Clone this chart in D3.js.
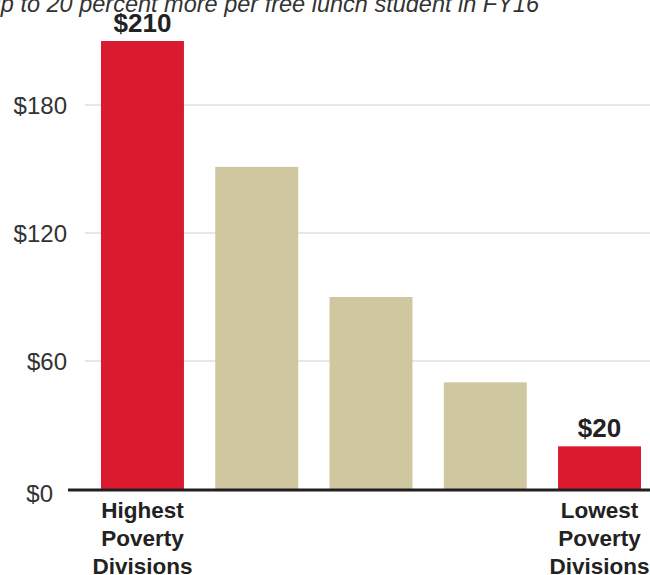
<!DOCTYPE html>
<html><head><meta charset="utf-8">
<script src="https://cdn.jsdelivr.net/npm/d3@7"></script>
<style>
html,body{margin:0;padding:0;background:#fff;}
svg{display:block;font-family:"Liberation Sans",Arial,Helvetica,sans-serif;}
</style></head>
<body>
<script>
const titleText = "up to 20 percent more per free lunch student in FY16";
const categories = ["q1","q2","q3","q4","q5"];
const categoryLabels = [["Highest","Poverty","Divisions"], [], [], [], ["Lowest","Poverty","Divisions"]];
const values = [210, 151, 90, 50, 20];
const highlighted = [true, false, false, false, true];
const valueLabels = ["$210", "", "", "", "$20"];
const yTicks = [0, 60, 120, 180];

const W = 650, H = 575;
const svg = d3.select("body").append("svg").attr("width", W).attr("height", H);

const y = d3.scaleLinear().domain([0, 180]).range([489, 105]);
const x = d3.scaleBand().domain(categories).range([101, 641]).paddingInner(0.274).paddingOuter(0);

// title (clipped at top)
svg.append("text").attr("x", 539).attr("y", 12).attr("text-anchor", "end")
  .attr("font-size", 23.5).attr("font-style", "italic").attr("fill", "#333")
  .text(titleText);

// gridlines
svg.append("g").selectAll("line").data(yTicks.filter(d => d > 0)).join("line")
  .attr("x1", 85).attr("x2", 650).attr("y1", d => y(d)).attr("y2", d => y(d))
  .attr("stroke", "#cfcfcf").attr("stroke-width", 1);

// y axis labels
const yAxis = d3.axisLeft(y).tickValues(yTicks).tickSize(0).tickPadding(0).tickFormat(d => "$" + d);
const gy = svg.append("g").attr("transform", "translate(67,0)").call(yAxis);
gy.select(".domain").remove();
gy.selectAll("text").attr("font-size", 24).attr("fill", "#333")
  .attr("font-family", "'Liberation Sans',Arial,sans-serif")
  .attr("dy", "0.35em");
gy.selectAll(".tick").filter(d => d === 0).select("text").attr("x", -14).attr("dy", "0.5em");

// bars
svg.append("g").selectAll("rect").data(values).join("rect")
  .attr("x", (d, i) => x(categories[i]))
  .attr("y", d => y(d))
  .attr("width", x.bandwidth())
  .attr("height", d => y(0) - y(d))
  .attr("fill", (d, i) => highlighted[i] ? "#da1a2f" : "#cfc79f");

// baseline
svg.append("line").attr("x1", 68).attr("x2", 650).attr("y1", y(0) + 1).attr("y2", y(0) + 1)
  .attr("stroke", "#231f20").attr("stroke-width", 3);

// value labels
svg.append("g").selectAll("text").data(values).join("text")
  .attr("x", (d, i) => x(categories[i]) + x.bandwidth() / 2)
  .attr("y", d => y(d) - 9)
  .attr("text-anchor", "middle").attr("font-size", 26).attr("font-weight", "bold").attr("fill", "#222")
  .text((d, i) => valueLabels[i]);

// category labels
const cl = svg.append("g");
categories.forEach((c, i) => {
  const cx = x(c) + x.bandwidth() / 2;
  const t = cl.append("text").attr("text-anchor", "middle").attr("font-size", 22.5).attr("font-weight", "bold").attr("fill", "#222")
    .attr("transform", `translate(${cx},0)`);
  categoryLabels[i].forEach((line, j) => {
    t.append("tspan").attr("x", 0).attr("y", 518 + j * 28).text(line);
  });
});
</script>
</body></html>
